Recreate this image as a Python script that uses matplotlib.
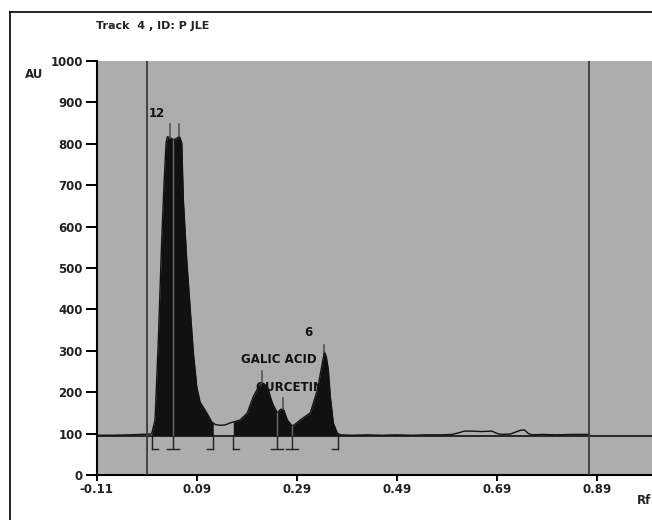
import numpy as np
import matplotlib.pyplot as plt
from matplotlib.lines import Line2D

# --- Data ---
rf = [-0.11, -0.08, -0.043, -0.023, -0.003, 0.000, 0.0066, 0.0132, 0.020, 0.0246,
      0.0286, 0.0312, 0.0366, 0.0426, 0.0486, 0.0552, 0.060, 0.0632, 0.070, 0.0766,
      0.0832, 0.090, 0.0966, 0.110, 0.120, 0.127, 0.137, 0.147, 0.157, 0.163,
      0.177, 0.191, 0.203, 0.213, 0.221, 0.231, 0.241, 0.251, 0.257, 0.263,
      0.271, 0.281, 0.289, 0.297, 0.317, 0.331, 0.341, 0.345, 0.349, 0.353,
      0.357, 0.363, 0.371, 0.377, 0.40, 0.43, 0.46, 0.49, 0.52, 0.55,
      0.58, 0.60, 0.611, 0.625, 0.637, 0.66, 0.68, 0.691, 0.70, 0.717,
      0.728, 0.737, 0.745, 0.753, 0.76, 0.78, 0.81, 0.84, 0.875]
au = [96, 96, 97, 98, 99, 100, 133, 326, 568, 705,
      802, 817, 815, 810, 812, 818, 802, 664, 519, 406,
      295, 213, 176, 150, 128, 122, 120, 121, 126, 128,
      133, 150, 189, 212, 222, 214, 174, 150, 158, 160,
      133, 118, 125, 133, 150, 205, 270, 298, 285, 254,
      189, 125, 101, 97, 96, 97, 96, 97, 96, 97,
      97, 98, 101, 106, 106, 105, 106, 100, 98, 99,
      104, 108, 109, 100, 97, 98, 97, 98, 98]

baseline_au = 95
fill_ranges = [(0.000, 0.123), (0.163, 0.373)]

# integration brackets: (rf, kind)  kind: start / split / end
brackets = [(0.000, "start"), (0.043, "split"), (0.123, "end"),
            (0.163, "start"), (0.251, "split"), (0.281, "split"), (0.373, "end")]
# peak maxima markers: (rf, top of marker)
peak_marks = [(0.0366, 848), (0.0552, 848), (0.221, 251), (0.263, 186), (0.345, 314)]
front_lines = [-0.01, 0.875]

x_ticks = [-0.11, 0.09, 0.29, 0.49, 0.69, 0.89]
y_ticks = list(range(0, 1001, 100))

plt.rcParams['font.family'] = ['DejaVu Sans']

fig = plt.figure(figsize=(6.52, 5.2), dpi=100)
ax = fig.add_axes([96.7 / 652, 1 - 475 / 520, 1 - 96.7 / 652, (475 - 61) / 520])
ax.set_facecolor('#adadad')

rf_a = np.array(rf)
au_a = np.array(au)

# filled peaks
for lo, hi in fill_ranges:
    xs = np.linspace(lo, hi, 300)
    ys = np.interp(xs, rf_a, au_a)
    ax.fill_between(xs, baseline_au, ys, where=ys >= baseline_au, color='#111111',
                    lw=0, zorder=2)

ax.plot(rf_a, au_a, color='#111111', lw=1.0, zorder=3)
ax.axhline(baseline_au, color='#111111', lw=1.2, zorder=3)

for x in front_lines:
    ax.axvline(x, color='#3a3a3a', lw=1.3, zorder=4)

# split lines inside peaks
for x, kind in brackets:
    if kind == "split":
        ax.plot([x, x], [baseline_au, np.interp(x, rf_a, au_a)], color='#6a6a6a',
                lw=1.0, zorder=4)

# maxima markers
for x, top in peak_marks:
    ax.plot([x, x], [np.interp(x, rf_a, au_a), top], color='#555555', lw=1.2, zorder=4)

# brackets under baseline
low = 63
w = 0.012
for x, kind in brackets:
    ax.plot([x, x], [baseline_au, low], color='#222222', lw=1.0, zorder=4)
    if kind == "start":
        ax.plot([x, x + w], [low, low], color='#222222', lw=1.0, zorder=4)
    elif kind == "end":
        ax.plot([x - w, x], [low, low], color='#222222', lw=1.0, zorder=4)
    else:
        ax.plot([x - w, x + w], [low, low], color='#222222', lw=1.0, zorder=4)

# labels
lab = dict(fontsize=8.5, fontweight='bold', color='#111111', zorder=1)
ax.text(-0.006, 874, "12", ha='left', va='center', **lab)
ax.text(0.179, 280, "GALIC ACID", ha='left', va='center', **lab)
ax.text(0.207, 213, "QURCETINE", ha='left', va='center', **lab)
ax.text(0.305, 343, "6", ha='left', va='center', **lab)

ax.set_xlim(-0.11, 1.0)
ax.set_ylim(0, 1000)
ax.set_xticks(x_ticks)
ax.set_xticklabels([f"{v:.2f}" for v in x_ticks])
ax.set_yticks(y_ticks)
ax.tick_params(axis='y', length=8, width=1.4, pad=2, labelsize=8.5)
ax.tick_params(axis='x', length=4, width=1.4, pad=1.5, labelsize=8.5)
for t in ax.get_xticklabels() + ax.get_yticklabels():
    t.set_fontweight('bold')
    t.set_color('#222222')

for s in ['top', 'right']:
    ax.spines[s].set_visible(False)
ax.spines['left'].set_linewidth(1.5)
ax.spines['bottom'].set_linewidth(1.5)

fig.text(96 / 652, 1 - 26 / 520, "Track  4 , ID: P JLE", fontsize=8, fontweight='bold',
         ha='left', va='center', color='#222222')
fig.text(25 / 652, 1 - 75 / 520, "AU", fontsize=8.5, fontweight='bold',
         ha='left', va='center', color='#222222')
fig.text(651 / 652, 1 - 500 / 520, "Rf", fontsize=8.5, fontweight='bold',
         ha='right', va='center', color='#222222')

# outer frame
fig.add_artist(Line2D([10 / 652, 10 / 652], [0, 1 - 12 / 520], color='black', lw=1.2))
fig.add_artist(Line2D([10 / 652, 1], [1 - 12 / 520, 1 - 12 / 520], color='black', lw=1.2))

fig.savefig("out.png", dpi=100)
